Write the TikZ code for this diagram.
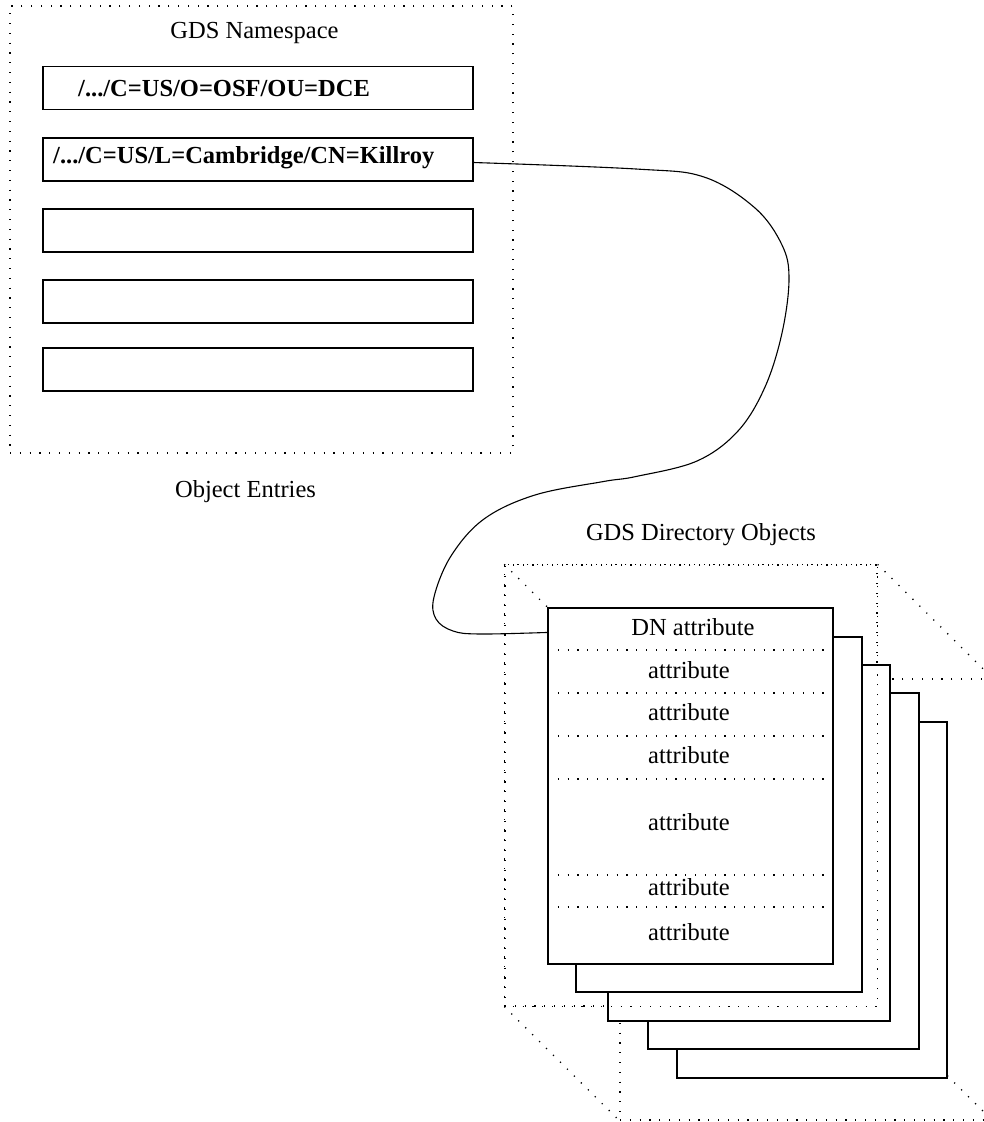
\documentclass[tikz,border=0pt]{standalone}
\usepackage{fontspec}
\setmainfont{Liberation Serif}
\begin{document}
\begin{tikzpicture}[x=1pt,y=-1pt,
  every node/.style={font=\fontsize{24.5}{29}\selectfont, inner sep=0pt},
  thinline/.style={line width=1.1pt},
  dotline/.style={line width=1.3pt, dash pattern=on 1.2pt off 8.6pt},
  entry/.style={draw, thinline, minimum width=430pt, minimum height=43pt},
  card/.style={draw, fill=white, thinline},
  frame/.style={draw, dotline, minimum width=372pt, minimum height=441pt},
  txt/.style={anchor=base}]
\useasboundingbox (0,0) rectangle (984,1122);
\clip (0,0) rectangle (984,1122);

% ---- namespace with its object entries ----
\node[draw, dotline, minimum width=503pt, minimum height=447pt] (ns) at (261.5,229.5) {};
\node[txt] (nstitle) at (254.5,38.7) {GDS Namespace};
\node[entry] (e1) at (258,88) {};
\node[entry] (e2) at (258,159.5) {};
\node[entry] (e3) at (258,230.5) {};
\node[entry] (e4) at (258,301.5) {};
\node[entry] (e5) at (258,369.5) {};
\node[anchor=base west, font=\fontsize{24.5}{29}\selectfont\bfseries] (t1) at (78,96.7) {/.../C=US/O=OSF/OU=DCE};
\node[anchor=base west, font=\fontsize{24.5}{29}\selectfont\bfseries] (t2) at (53,163.3) {/.../C=US/L=Cambridge/CN=Killroy};
\node[txt] (oe) at (245.5,497) {Object Entries};

% ---- directory objects ----
\node[txt] (dirtitle) at (701,540.5) {GDS Directory Objects};
\node[frame] (back) at (806,899.5) {};
\node[frame] (front) at (691,785.5) {};
\draw[dotline] (front.north west) -- (back.north west);
\draw[dotline] (front.north east) -- (back.north east);
\draw[dotline] (front.south west) -- (back.south west);
\draw[dotline] (front.south east) -- (back.south east);

% stacked objects, back to front
\node[card, minimum width=270pt, minimum height=356pt] (o5) at (812,900) {};
\node[card, minimum width=271pt, minimum height=356pt] (o4) at (783.5,871) {};
\node[card, minimum width=282pt, minimum height=356pt] (o3) at (749,843) {};
\node[card, minimum width=286pt, minimum height=355pt] (o2) at (719,814.5) {};
\node[card, minimum width=285pt, minimum height=356pt] (o1) at (690.5,786) {};

% the front edges of the dotted frame stay visible over the stack
\draw[dotline] (front.north west) rectangle (front.south east);

% attribute rows of the front object
\foreach \yy in {650,693,736,779,875,907}
  \draw[dotline] (548,\yy) -- (833,\yy);
\node[txt] (a0) at (693,635) {DN attribute};
\node[txt] (a1) at (689,678) {attribute};
\node[txt] (a2) at (689,720.5) {attribute};
\node[txt] (a3) at (689,763.3) {attribute};
\node[txt] (a4) at (689,830.5) {attribute};
\node[txt] (a5) at (689,895) {attribute};
\node[txt] (a6) at (689,940.7) {attribute};

% link from the entry to the object's DN
\coordinate (from) at ([yshift=-3pt]e2.east);
\coordinate (to) at ([yshift=-25pt]o1.north west);
\draw[thinline] plot[smooth, tension=0.6] coordinates {
  (from) (636,169) (704,177) (755,208) (782,245) (789,279) (782,333)
  (765,387) (738,431) (697,461) (636,476.5) (603,481.6) (535,495)
  (484,519) (451,556) (434,597) (436,619) (453,631) (480,634) (to)};
\end{tikzpicture}
\end{document}
